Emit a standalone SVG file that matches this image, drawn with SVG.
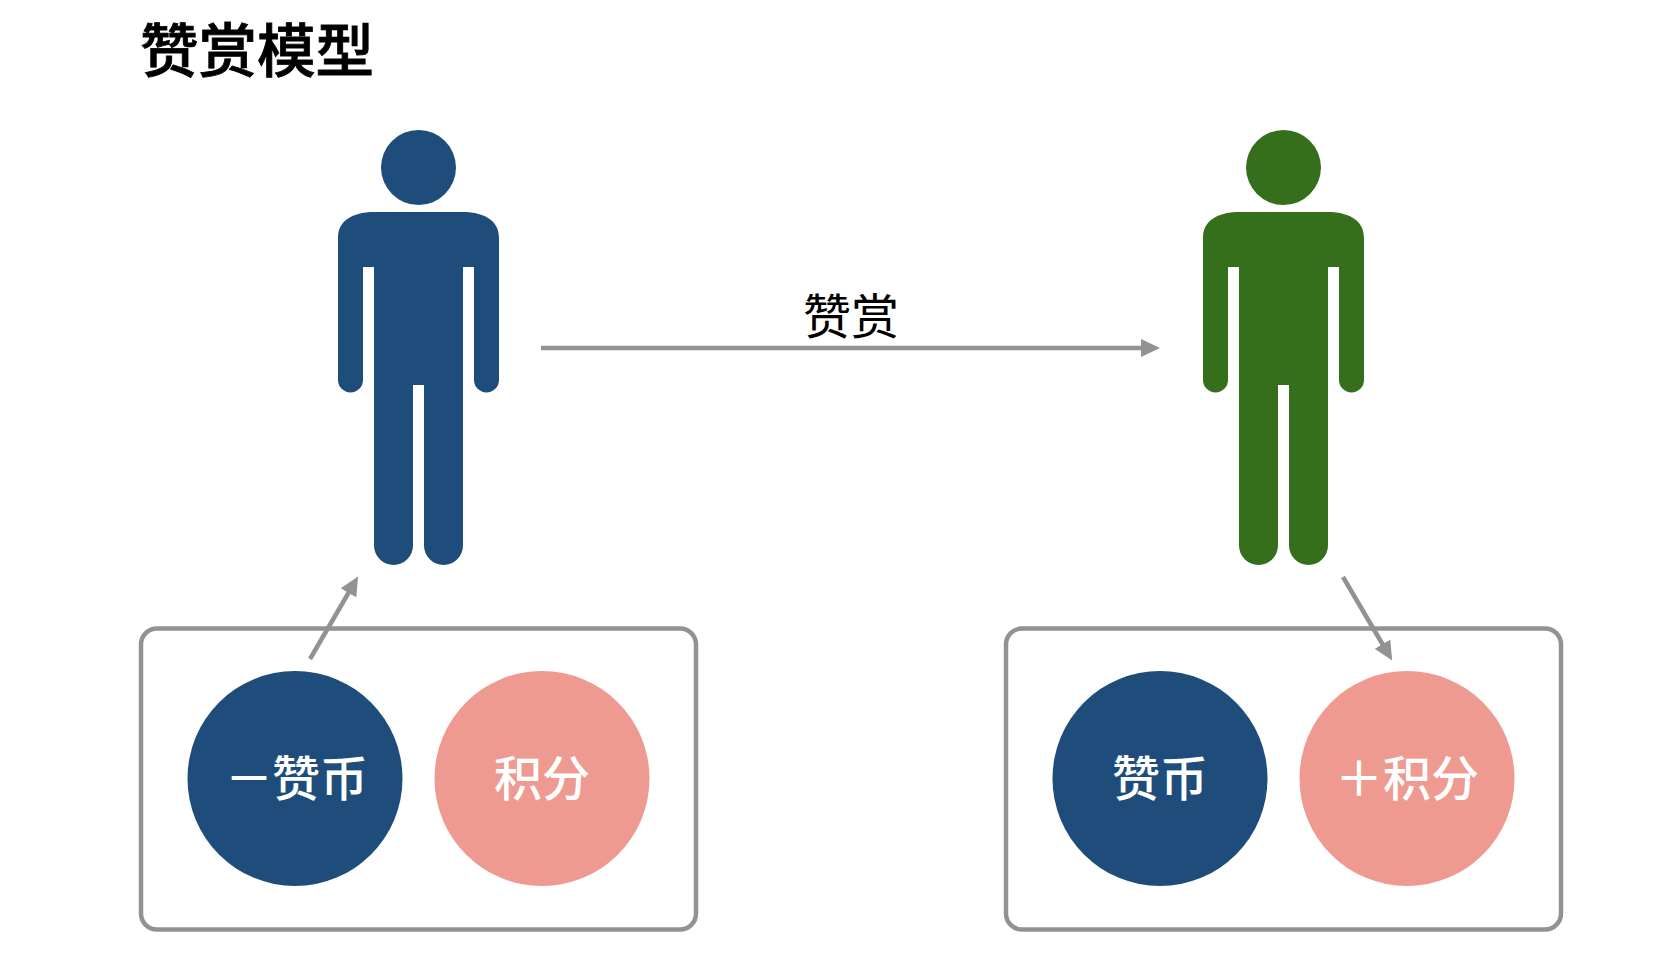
<svg xmlns="http://www.w3.org/2000/svg" width="1672" height="960" viewBox="0 0 1672 960">
<style>
text{font-family:"Noto Sans CJK SC","Liberation Sans",sans-serif}
.title{font-size:58.500px;font-weight:500;fill:#000;stroke:#000;stroke-width:.8px}
.lab{font-size:48px;font-weight:400;fill:#000;text-anchor:middle}
.c{font-size:48px;font-weight:500;fill:#fff}
.m{text-anchor:middle}
.box{fill:#fff;stroke:#929292;stroke-width:4.500}
.conn{stroke:#929292;stroke-width:4.500;fill:none;marker-end:url(#arr)}
.blue{fill:#1e4d7b}.pink{fill:#ef9a90}
</style>
<defs>
<marker id="arr" markerUnits="userSpaceOnUse" markerWidth="20" markerHeight="20" refX="1" refY="10" orient="auto"><path d="M0 1L19 10L0 19Z" fill="#929292"/></marker>
<g id="person">
<circle cx="418.500" cy="167.500" r="37.500"/>
<path d="M370 212H467C490 214 499 224 499 238V380A12.500 12.500 0 0 1 474 380V267H463V545.500A19.500 19.500 0 0 1 424 545.500V385H413V545.500A19.500 19.500 0 0 1 374 545.500V267H363V380A12.500 12.500 0 0 1 338 380V238C338 224 347 214 370 212Z"/>
</g>
</defs>
<g id="title"><text class="title" x="140" y="72">赞赏模型</text></g>
<g id="person-left" fill="#1e4d7b"><use href="#person"/></g>
<g id="person-right" fill="#356f1c"><use href="#person" x="865"/></g>
<g id="box-left"><rect class="box" x="141" y="628.500" width="555" height="301" rx="16"/>
<circle class="blue" cx="295" cy="778.500" r="107.500"/><text class="c" x="225 272 320" y="796">－赞币</text>
<circle class="pink" cx="542" cy="778.500" r="107.500"/><text class="c m" x="542" y="796">积分</text></g>
<g id="box-right"><rect class="box" x="1006" y="628.500" width="555" height="301" rx="16"/>
<circle class="blue" cx="1160" cy="778.500" r="107.500"/><text class="c m" x="1160" y="796">赞币</text>
<circle class="pink" cx="1407" cy="778.500" r="107.500"/><text class="c" x="1335 1383 1431" y="796">＋积分</text></g>
<g id="connectors">
<path class="conn" d="M541 348H1142"/>
<path class="conn" d="M310 659L349 592"/>
<path class="conn" d="M1343 577L1383 645"/>
</g>
<text class="lab" x="851" y="334">赞赏</text>
</svg>
